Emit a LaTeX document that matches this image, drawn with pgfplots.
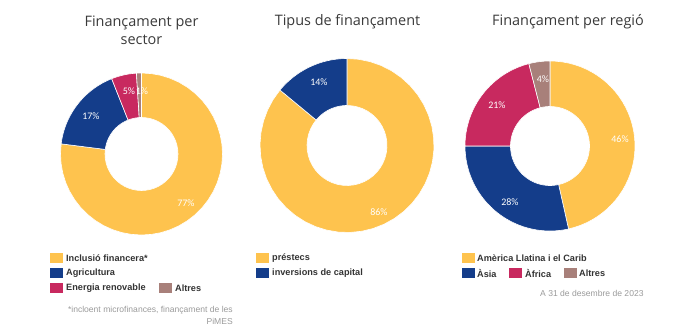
\documentclass[border=0pt]{standalone}
\usepackage{pgfplots}
\pgfplotsset{compat=1.18}
\usepackage{fontspec}
\setmainfont{Liberation Sans}
\newfontfamily\titlefont{Open Sans}
\newfontfamily\pctfont{Carlito}
\definecolor{cyel}{HTML}{FEC34E}
\definecolor{cblu}{HTML}{143D8A}
\definecolor{cpnk}{HTML}{C8295F}
\definecolor{cgry}{HTML}{A8807A}
\definecolor{ctxt}{HTML}{333333}
\definecolor{ctitle}{HTML}{3A3A3A}
\definecolor{cnote}{HTML}{9A9A9A}
% slice: cx, cy, R, r, start%, end%, colour
\newcommand{\slice}[7]{%
\addplot[fill=#7, draw=white, line width=0.6pt, samples at={0,1,...,81}, variable=\t]
 ({#1 + ((\t<40.5) ? #3 : #4)*sin(3.6*(#5+(#6-#5)*((\t<40.5) ? \t/40 : (81-\t)/40)))},
  {#2 - ((\t<40.5) ? #3 : #4)*cos(3.6*(#5+(#6-#5)*((\t<40.5) ? \t/40 : (81-\t)/40)))}) -- cycle;
}
\newcommand{\key}[3]{% x, y, colour
\node[fill=#3, inner sep=0pt, minimum width=12.5bp, minimum height=9.5bp, anchor=west] at (axis cs:#1,#2) {};}
\begin{document}
\begin{tikzpicture}
\begin{axis}[
  width=700bp, height=334bp, scale only axis,
  xmin=0, xmax=700, ymin=0, ymax=334, y dir=reverse,
  hide axis, clip=false]
\path (rel axis cs:0,0) rectangle (rel axis cs:1,1);
% Left donut: 77, 17, 5, 1
\slice{141.5}{154}{81}{36.5}{0}{77}{cyel}
\slice{141.5}{154}{81}{36.5}{77}{94}{cblu}
\slice{141.5}{154}{81}{36.5}{94}{99}{cpnk}
\slice{141.5}{154}{81}{36.5}{99}{100}{cgry}
% Middle donut: 86, 14
\slice{347}{145.5}{87}{40}{0}{86}{cyel}
\slice{347}{145.5}{87}{40}{86}{100}{cblu}
% Right donut: 46, 28, 21, 4
\slice{550}{146}{85}{39.5}{0}{46.5}{cyel}
\slice{550}{146}{85}{39.5}{46.5}{75}{cblu}
\slice{550}{146}{85}{39.5}{75}{96}{cpnk}
\slice{550}{146}{85}{39.5}{96}{100}{cgry}
% percentage labels
\begin{scope}[every node/.style={font=\pctfont\fontsize{10}{12}\selectfont, text=white, inner sep=0pt}]
\node at (axis cs:186,203) {77\%};
\node at (axis cs:91,116) {17\%};
\node at (axis cs:129,91) {5\%};
\node at (axis cs:142,91) {1\%};
\node at (axis cs:379,212) {86\%};
\node at (axis cs:319,82) {14\%};
\node at (axis cs:620,139) {46\%};
\node at (axis cs:510,202) {28\%};
\node at (axis cs:497,105) {21\%};
\node at (axis cs:543,79) {4\%};
\end{scope}
% titles
\begin{scope}[every node/.style={font=\titlefont\fontsize{14.5}{17}\selectfont, text=ctitle, inner sep=0pt, anchor=base}]
\node at (axis cs:141.5,27) {Finançament per};
\node at (axis cs:141.5,44) {sector};
\node at (axis cs:347.5,26) {Tipus de finançament};
\node at (axis cs:568,26) {Finançament per regió};
\end{scope}
% legends
\key{50}{258}{cyel}\key{50}{273}{cblu}\key{50}{288}{cpnk}\key{159}{288}{cgry}
\key{256}{258}{cyel}\key{256}{273}{cblu}
\key{462}{258}{cyel}\key{462}{273}{cblu}\key{509}{273}{cpnk}\key{564}{273}{cgry}
\begin{scope}[every node/.style={font=\bfseries\fontsize{9.2}{11}\selectfont, text=ctxt, inner sep=0pt, anchor=west}]
\node at (axis cs:66,258) {Inclusió financera*};
\node at (axis cs:66,273) {Agricultura};
\node at (axis cs:66,288) {Energia renovable};
\node at (axis cs:175,288) {Altres};
\node at (axis cs:272,258) {préstecs};
\node at (axis cs:272,273) {inversions de capital};
\node at (axis cs:477,258) {Amèrica Llatina i el Carib};
\node at (axis cs:477,273) {Àsia};
\node at (axis cs:525,273) {Àfrica};
\node at (axis cs:579,273) {Altres};
\end{scope}
% notes
\begin{scope}[every node/.style={font=\fontsize{8.6}{10}\selectfont, text=cnote, inner sep=0pt}]
\node[anchor=base east] at (axis cs:233,312) {*incloent microfinances, finançament de les};
\node[anchor=base east] at (axis cs:233,324) {PiMES};
\node[anchor=base west] at (axis cs:540,296.5) {A 31 de desembre de 2023};
\end{scope}
\end{axis}
\end{tikzpicture}
\end{document}
